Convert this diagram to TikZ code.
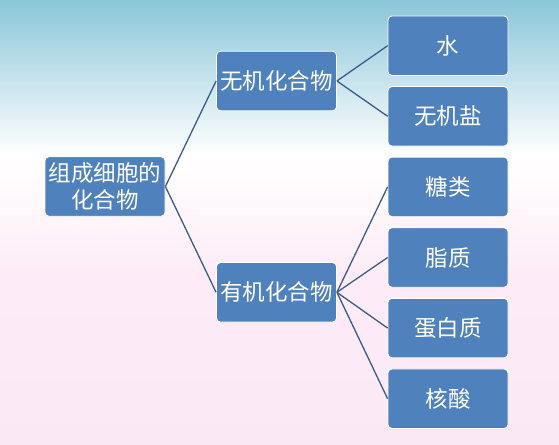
\documentclass[tikz,border=0pt]{standalone}
\usepackage{fontspec}
\newfontfamily\cjk{Noto Sans CJK SC}
\definecolor{boxblue}{HTML}{4F81BD}
\definecolor{linec}{HTML}{3B5C88}
\definecolor{topc}{RGB}{138,198,217}
\definecolor{pinkc}{RGB}{253,236,247}
\definecolor{pinkd}{RGB}{251,232,245}
\begin{document}
\begin{tikzpicture}[x=1pt,y=-1pt,
  box/.style={draw=white, line width=0.8pt, fill=boxblue, rounded corners=4pt,
    minimum width=120pt, minimum height=59.5pt, inner sep=0pt, text=white,
    font=\cjk\fontsize{22.5}{27}\selectfont, align=center},
  link/.style={draw=linec, line width=1.3pt}]
\useasboundingbox (0,0) rectangle (559,444);
\shade[top color=topc, bottom color=white] (0,0) rectangle (559,155);
\shade[top color=white, bottom color=pinkc] (0,155) rectangle (559,275);
\shade[top color=pinkc, bottom color=pinkd] (0,275) rectangle (559,444);
\node[box] (root) at (105,186.5) {组成细胞的\\化合物};
\node[box] (m1) at (276.5,81) {无机化合物};
\node[box] (m2) at (276.5,292.3) {有机化合物};
\node[box] (r1) at (448,45.7) {水};
\node[box] (r2) at (448,116.3) {无机盐};
\node[box] (r3) at (448,186.9) {糖类};
\node[box] (r4) at (448,257.5) {脂质};
\node[box] (r5) at (448,328.1) {蛋白质};
\node[box] (r6) at (448,398.7) {核酸};
\draw[link] (root.east) -- (m1.west);
\draw[link] (root.east) -- (m2.west);
\foreach \r in {r1,r2} \draw[link] (m1.east) -- (\r.west);
\foreach \r in {r3,r4,r5,r6} \draw[link] (m2.east) -- (\r.west);
\end{tikzpicture}
\end{document}
